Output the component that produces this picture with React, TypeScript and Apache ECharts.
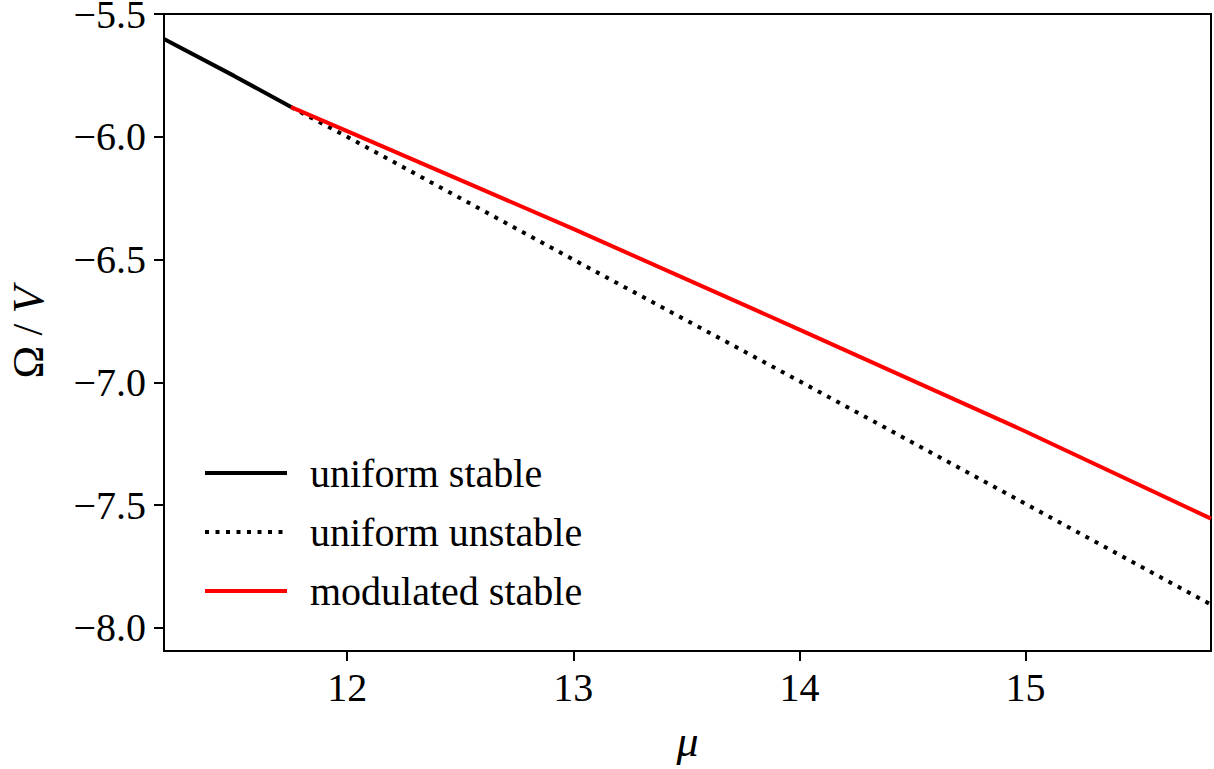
import React, { useEffect, useRef } from "react";
import * as echarts from "echarts";

// μ values and Ω/V values
const uniformStableMu = [11.19, 11.5, 11.752];
const uniformStableOmega = [-5.602, -5.752, -5.879];

const uniformUnstableMu = [11.752, 12, 13, 14, 15, 15.82];
const uniformUnstableOmega = [-5.879, -6.0, -6.5, -6.995, -7.495, -7.905];

const modulatedStableMu = [11.752, 12, 13, 14, 15, 15.82];
const modulatedStableOmega = [-5.879, -5.977, -6.375, -6.785, -7.2, -7.555];

const xTicks = [12, 13, 14, 15];
const yTicks = [-8.0, -7.5, -7.0, -6.5, -6.0, -5.5];

const seriesNames = ["uniform stable", "uniform unstable", "modulated stable"];

const FONT = "'Liberation Serif', 'DejaVu Serif', serif";

function pairs(xs: number[], ys: number[]) {
  return xs.map((x, i) => [x, ys[i]]);
}

export default function App() {
  const ref = useRef<HTMLDivElement>(null);
  useEffect(() => {
    document.body.style.margin = "0";
    const chart = echarts.init(ref.current!, null, { renderer: "svg" });
    chart.setOption({
      animation: false,
      backgroundColor: "#ffffff",
      grid: {
        left: 164,
        right: 3,
        top: 14,
        bottom: 118,
        outerBoundsMode: "none",
        containLabel: false,
        show: true,
        borderColor: "#000",
        borderWidth: 2,
        backgroundColor: "transparent",
      },
      legend: {
        orient: "vertical",
        left: 198,
        top: 448,
        itemWidth: 82,
        itemHeight: 14,
        itemGap: 19,
        data: seriesNames,
        itemStyle: { opacity: 0 },
        lineStyle: { width: 4 },
        textStyle: {
          fontFamily: FONT,
          fontSize: 40,
          color: "#000",
          padding: [0, 0, 0, 18],
        },
      },
      xAxis: {
        type: "value",
        min: 11.19,
        max: 15.82,
        name: "μ",
        nameLocation: "middle",
        nameGap: 68,
        nameTextStyle: {
          fontFamily: FONT,
          fontSize: 44,
          fontStyle: "italic",
          color: "#000",
        },
        axisLine: { show: true, lineStyle: { color: "#000", width: 2 } },
        axisTick: {
          show: true,
          inside: false,
          length: 10,
          lineStyle: { color: "#000", width: 2 },
          customValues: xTicks,
        },
        axisLabel: {
          customValues: xTicks,
          fontFamily: FONT,
          fontSize: 40,
          color: "#000",
          margin: 16,
          formatter: (v: number) => String(Math.round(v)),
        },
        splitLine: { show: false },
      },
      yAxis: {
        type: "value",
        min: -8.094,
        max: -5.5,
        name: "{a|Ω}{s| / }{b|V}",
        nameLocation: "middle",
        nameRotate: 90,
        nameGap: 114,
        nameTextStyle: {
          rich: {
            a: { fontFamily: FONT, fontSize: 44, color: "#000" },
            s: { fontFamily: FONT, fontSize: 42, color: "#000" },
            b: { fontFamily: FONT, fontSize: 44, fontStyle: "italic", color: "#000" },
          },
        },
        axisLine: { show: true, lineStyle: { color: "#000", width: 2 } },
        axisTick: {
          show: true,
          inside: false,
          length: 10,
          lineStyle: { color: "#000", width: 2 },
          customValues: yTicks,
        },
        axisLabel: {
          customValues: yTicks,
          fontFamily: FONT,
          fontSize: 40,
          lineHeight: 28,
          color: "#000",
          margin: 18,
          formatter: (v: number) =>
            (v < 0 ? "\u2212" : "") + Math.abs(v).toFixed(1),
        },
        splitLine: { show: false },
      },
      series: [
        {
          name: seriesNames[0],
          type: "line",
          data: pairs(uniformStableMu, uniformStableOmega),
          showSymbol: false,
          symbol: "none",
          lineStyle: { color: "#000", width: 4 },
          itemStyle: { color: "#000" },
          z: 3,
        },
        {
          name: seriesNames[1],
          type: "line",
          data: pairs(uniformUnstableMu, uniformUnstableOmega),
          showSymbol: false,
          symbol: "none",
          lineStyle: { color: "#000", width: 4, type: [4, 6.5], cap: "butt" },
          itemStyle: { color: "#000" },
          z: 2,
        },
        {
          name: seriesNames[2],
          type: "line",
          data: pairs(modulatedStableMu, modulatedStableOmega),
          showSymbol: false,
          symbol: "none",
          lineStyle: { color: "#ff0000", width: 4 },
          itemStyle: { color: "#ff0000" },
          z: 4,
        },
      ],
    });
    return () => chart.dispose();
  }, []);
  return <div ref={ref} style={{ width: 1214, height: 769 }} />;
}
